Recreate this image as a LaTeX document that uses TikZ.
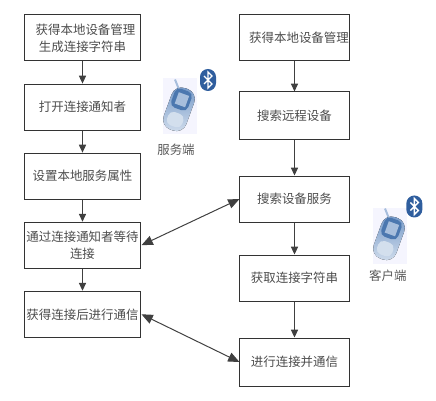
\documentclass[tikz,border=0pt]{standalone}
\usepackage{fontspec}
\setmainfont{Noto Sans CJK SC}
\usetikzlibrary{arrows.meta,positioning}
\definecolor{btblue}{HTML}{2F5E9E}
\definecolor{phblue}{HTML}{4F7DB8}
\tikzset{
  lblk/.style={draw=black!80, rectangle, line width=0.75pt, minimum height=1.219cm, minimum width=3.1cm, inner sep=0pt, align=center, font=\fontsize{9.4}{12.5}\selectfont, text=black!70},
  rblk/.style={lblk, minimum width=2.889cm},
  side/.style={inner sep=0pt, font=\fontsize{9.4}{12}\selectfont, text=black!65},
  arr/.style={-{Triangle[length=2.1mm, width=1.9mm]}, line width=0.75pt, draw=black!75},
  darr/.style={{Triangle[length=3mm, width=2.5mm]}-{Triangle[length=3mm, width=2.5mm]}, line width=0.75pt, draw=black!75},
  pics/phone/.style={code={
    \begin{scope}[x=0.0265cm, y=0.0265cm]
      \fill[black!8!blue!4] (-17,-28) rectangle (17,28);
      \draw[phblue!50, line width=1.5pt] (-5,27) -- (-1,17);
      \fill[rotate=-20, top color=phblue!80, bottom color=phblue!25, rounded corners=8pt] (-12,-25) rectangle (12,19);
      \fill[rotate=-20, phblue!95!black, rounded corners=4pt] (-10,-3) rectangle (8,17);
      \fill[rotate=-20, phblue!50] (-6,1) rectangle (5,13);
      \fill[rotate=-20, white!75!phblue, rounded corners=4pt] (-8,-21) rectangle (8,-7);
    \end{scope}
  }},
  pics/btmark/.style={code={
    \begin{scope}[x=0.0265cm, y=0.0265cm]
      \fill[btblue, rounded corners=6pt] (-8,-11) rectangle (8,11);
      \draw[white, line width=1pt] (-4,-4) -- (4,4) -- (0,8) -- (0,-8) -- (4,-4) -- (-4,4);
    \end{scope}
  }},
}
\begin{document}
\begin{tikzpicture}[node distance=0.585cm]
\useasboundingbox (0,0) rectangle (11.554,10.6);

\node[lblk] (getl) at (2.186,9.593) {\hspace{0.16cm}获得本地设备管理\\生成连接字符串};
\node[lblk, below=of getl] (open) {打开连接通知者};
\node[lblk, below=of open] (attr) {设置本地服务属性};
\node[lblk, below=of attr] (wait) {通过连接通知者等待\\连接};
\node[lblk, below=of wait] (comml) {获得连接后进行通信};

\node[rblk] (getr) at (7.804,9.593) {\hspace{0.24cm}获得本地设备管理};
\node[rblk, below=0.795cm of getr, minimum height=1.272cm] (srch) {搜索远程设备};
\node[rblk, below=0.928cm of srch] (serv) {搜索设备服务};
\node[rblk, below=0.849cm of serv] (str) {获取连接字符串};
\node[rblk, below=0.954cm of str, minimum height=1.272cm] (commr) {进行连接并通信};

\pic at (4.77,7.778) {phone};
\pic at (5.512,8.48) {btmark};
\node[side] (srv) at (4.664,6.625) {服务端};

\pic at (10.335,4.359) {phone};
\pic at (10.98,5.128) {btmark};
\node[side] (cli) at (10.28,3.286) {客户端};

\draw[arr] (getl) -- (open);
\draw[arr] (open) -- (attr);
\draw[arr] (attr) -- (wait);
\draw[arr] (wait) -- (comml);

\draw[arr] (getr) -- (srch);
\draw[arr] (srch) -- (serv);
\draw[arr] (serv) -- (str);
\draw[arr] (str) -- (commr);

\draw[darr] (wait.east) -- (serv.west);
\draw[darr] (comml.east) -- (commr.west);

\end{tikzpicture}
\end{document}
